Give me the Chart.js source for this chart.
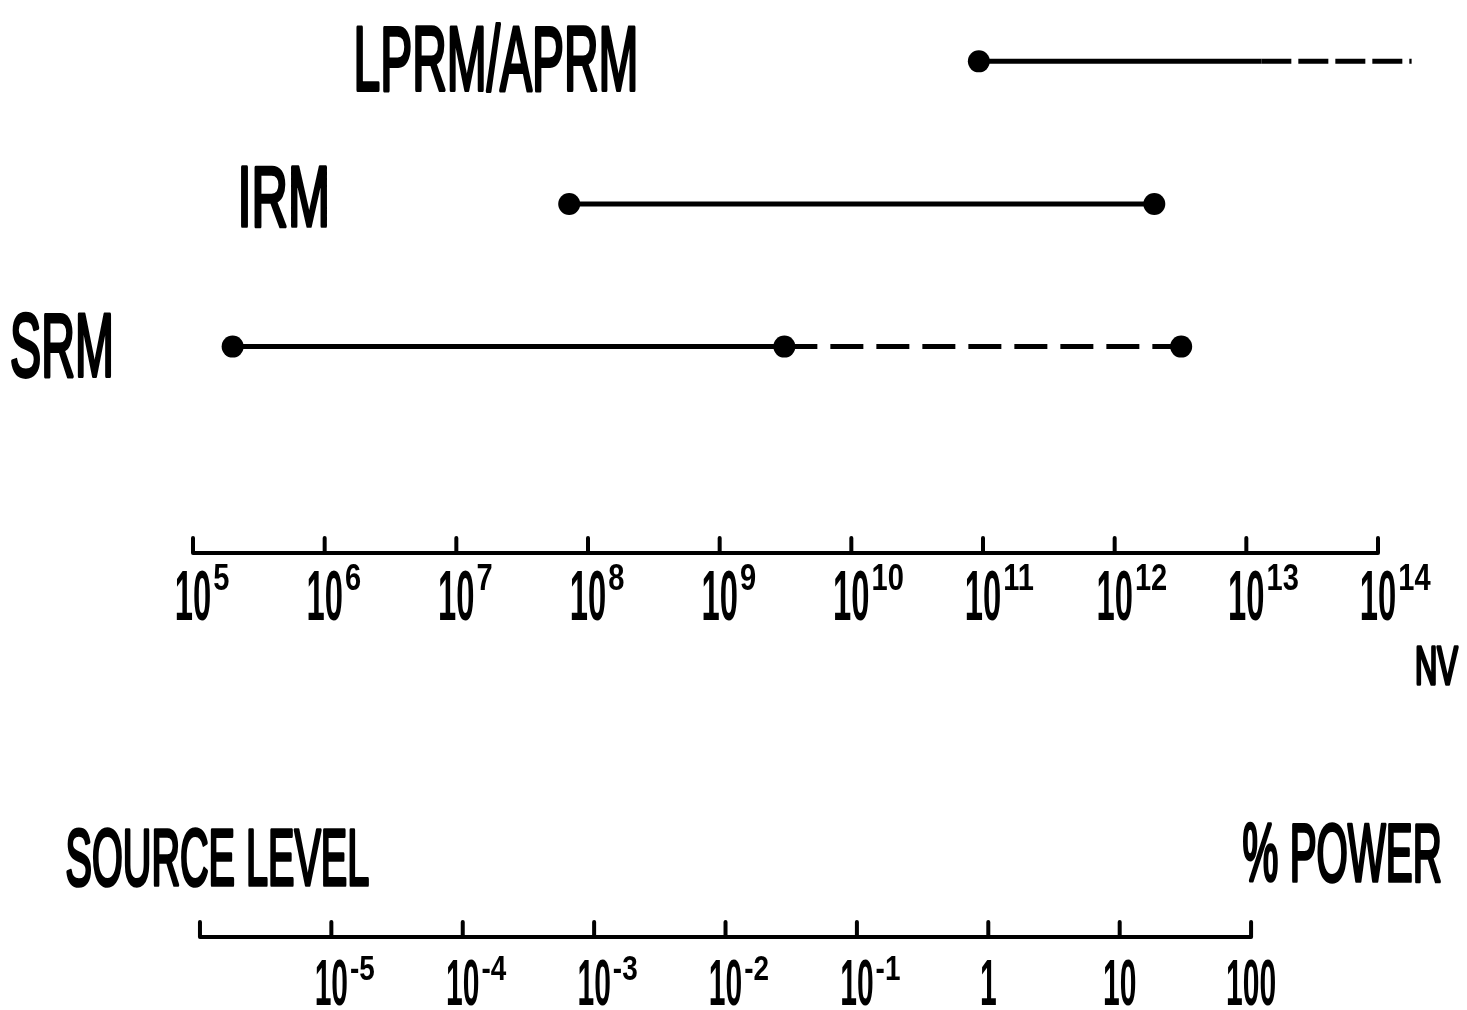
<!DOCTYPE html>
<html>
<head>
<meta charset="utf-8">
<script src="https://cdn.jsdelivr.net/npm/chart.js@4.4.1/dist/chart.umd.min.js"></script>
<style>
  html, body { margin: 0; background: #fff; }
  canvas { display: block; }
</style>
</head>
<body>
<canvas id="rangeChart" width="1467" height="1010"></canvas>
<script>
'use strict';

// detector ranges, flux in nv
var detectors = ['LPRM/APRM', 'IRM', 'SRM'];
var detectorRows = [3, 2, 1];
var lprmSolid = [9.3e10, 1.3e13];
var lprmDashed = [1.3e13, 1.8e14];
var irmRange = [7.2e7, 2.0e12];
var srmSolid = [2.0e5, 3.1e9];
var srmDashed = [3.1e9, 3.2e12];

// upper axis (nv)
var nvTicks = [1e5, 1e6, 1e7, 1e8, 1e9, 1e10, 1e11, 1e12, 1e13, 1e14];
var nvExponents = ['5', '6', '7', '8', '9', '10', '11', '12', '13', '14'];

// lower axis (% power)
var powerTicks = [1e-6, 1e-5, 1e-4, 1e-3, 1e-2, 1e-1, 1, 10, 100];
var powerBases = ['', '10', '10', '10', '10', '10', '1', '10', '100'];
var powerExponents = ['', '-5', '-4', '-3', '-2', '-1', '', '', ''];

var CAP = 0.688; // cap height of Liberation Sans
var FONT = '"Liberation Sans", "DejaVu Sans", sans-serif';

function seg(values, row) {
  return values.map(function(v) { return { x: v, y: row }; });
}

// text with a given cap height, squeezed sideways
function handText(ctx, text, x, baseline, capHeight, xScale, align) {
  ctx.font = 'bold ' + (capHeight / CAP) + 'px ' + FONT;
  var w = ctx.measureText(text).width * xScale;
  var left = align === 'center' ? x - w / 2 : x;
  ctx.save();
  ctx.translate(left, baseline);
  ctx.scale(xScale, 1);
  ctx.textAlign = 'left';
  ctx.textBaseline = 'alphabetic';
  ctx.fillText(text, 0, 0);
  ctx.restore();
  return left + w;
}

// text squeezed into a box (ink width, cap height), pen-like stroke
function fitText(ctx, text, left, right, top, bottom) {
  ctx.font = ((bottom - top) / CAP) + 'px ' + FONT;
  ctx.textAlign = 'left';
  ctx.textBaseline = 'alphabetic';
  var m = ctx.measureText(text);
  var ink = m.actualBoundingBoxLeft + m.actualBoundingBoxRight;
  var sx = (right - left - 4) / ink;
  ctx.save();
  ctx.translate(left + 2 + m.actualBoundingBoxLeft * sx, bottom - 2);
  ctx.scale(sx, (bottom - top - 4) / (bottom - top));
  ctx.lineWidth = 4;
  ctx.lineJoin = 'round';
  ctx.fillText(text, 0, 0);
  ctx.strokeText(text, 0, 0);
  ctx.restore();
}

function drawAxis(ctx, pixels, y) {
  ctx.beginPath();
  ctx.moveTo(pixels[0], y);
  ctx.lineTo(pixels[pixels.length - 1], y);
  pixels.forEach(function(p) {
    ctx.moveTo(p, y);
    ctx.lineTo(p, y - 15);
  });
  ctx.stroke();
}

var handLabels = {
  id: 'handLabels',
  afterDraw: function(chart) {
    var ctx = chart.ctx;
    var xs = chart.scales.x;
    var xs2 = chart.scales.x2;
    var axisY = chart.chartArea.bottom;
    var powerAxisY = 937;

    ctx.save();
    ctx.fillStyle = '#000';
    ctx.strokeStyle = '#000';
    ctx.lineWidth = 4;
    ctx.lineCap = 'round';

    // nv axis
    var nvPx = nvTicks.map(function(v) { return xs.getPixelForValue(v); });
    drawAxis(ctx, nvPx, axisY);
    nvPx.forEach(function(p, i) {
      var end = handText(ctx, '10', p, axisY + 67, 48, 0.47, 'center');
      handText(ctx, nvExponents[i], end + 2, axisY + 37, 25, 0.8, 'left');
    });
    fitText(ctx, 'NV', 1415, 1460, 645, 686);

    // power axis
    var powPx = powerTicks.map(function(v) { return xs2.getPixelForValue(v); });
    drawAxis(ctx, powPx, powerAxisY);
    powPx.forEach(function(p, i) {
      if (!powerBases[i]) return;
      var end = handText(ctx, powerBases[i], p, powerAxisY + 68, 44, 0.47, 'center');
      if (powerExponents[i]) {
        handText(ctx, powerExponents[i], end + 2, powerAxisY + 43, 24, 0.8, 'left');
      }
    });
    fitText(ctx, 'SOURCE LEVEL', 65, 370, 828, 887);
    fitText(ctx, '% POWER', 1242, 1442, 823, 883);

    // detector names
    fitText(ctx, detectors[0], 355, 637, 25, 92);
    fitText(ctx, detectors[1], 240, 328, 165, 228);
    fitText(ctx, detectors[2], 10, 112, 313, 378);
    ctx.restore();
  }
};

var common = {
  borderColor: '#000',
  backgroundColor: '#000',
  pointBackgroundColor: '#000',
  pointBorderWidth: 0,
  borderWidth: 5,
  showLine: true,
  clip: false
};

function dataset(label, data, extra) {
  return Object.assign({ label: label, data: data }, common, extra);
}

var ctx = document.getElementById('rangeChart').getContext('2d');
new Chart(ctx, {
  type: 'scatter',
  data: {
    datasets: [
      dataset('LPRM/APRM', seg(lprmSolid, detectorRows[0]), { pointRadius: [11, 0] }),
      dataset('LPRM/APRM extended', seg(lprmDashed, detectorRows[0]), { pointRadius: 0, borderDash: [30, 7] }),
      dataset('IRM', seg(irmRange, detectorRows[1]), { pointRadius: 11 }),
      dataset('SRM', seg(srmSolid, detectorRows[2]), { pointRadius: 11 }),
      dataset('SRM extended', seg(srmDashed, detectorRows[2]), { pointRadius: [0, 11], borderDash: [33, 13] })
    ]
  },
  options: {
    responsive: false,
    devicePixelRatio: 1,
    animation: false,
    layout: { padding: { left: 193, right: 89, top: 0, bottom: 457 } },
    scales: {
      x: { type: 'logarithmic', min: 1e5, max: 1e14, display: false },
      x2: { type: 'logarithmic', min: Math.pow(10, -6.053), max: Math.pow(10, 2.966), display: false },
      y: { type: 'linear', min: -0.447, max: 3.353, display: false }
    },
    plugins: {
      legend: { display: false },
      tooltip: { enabled: false }
    }
  },
  plugins: [handLabels]
});
</script>
</body>
</html>
